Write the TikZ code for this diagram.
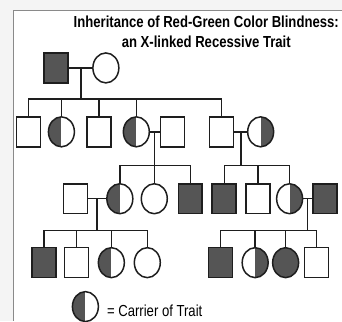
\documentclass[tikz,border=0pt]{standalone}
\usepackage{fontspec}
\newfontfamily\narrowsf[FakeStretch=0.82]{Liberation Sans}
\usetikzlibrary{shapes.geometric}
\definecolor{affgray}{HTML}{555555}
\definecolor{inkc}{HTML}{1E1E1E}
\definecolor{bggray}{HTML}{F4F4F4}
\definecolor{framec}{HTML}{8A8A8A}
\begin{document}
\begin{tikzpicture}[x=1pt,y=-1pt,
  conn/.style={draw=inkc, line width=1.4pt},
  male/.style={rectangle, draw=inkc, line width=1.5pt, minimum width=24pt, minimum height=30pt, inner sep=0pt, fill=white},
  female/.style={ellipse, draw=inkc, line width=1.5pt, minimum width=26pt, minimum height=30pt, inner sep=0pt, fill=white},
  aff/.style={fill=affgray},
  carL/.style={female, path picture={\fill[affgray] (path picture bounding box.south west) rectangle (path picture bounding box.north);}},
  carR/.style={female, path picture={\fill[affgray] (path picture bounding box.south east) rectangle (path picture bounding box.north);}},
  titletext/.style={font=\narrowsf\bfseries\fontsize{16}{19}\selectfont, inner sep=0pt, anchor=base},
  legtext/.style={font=\narrowsf\fontsize{16}{19}\selectfont, inner sep=0pt, anchor=base west}
]
% background and frame
\fill[bggray] (0,0) rectangle (342,321);
\fill[white] (13.5,10) rectangle (342,321);
\draw[framec, line width=0.9pt] (13.5,321) -- (13.5,10) -- (342,10);
\useasboundingbox (0,0) rectangle (342,321);

% title
\node[titletext] (t1) at (206.5,28) {Inheritance of Red-Green Color Blindness:};
\node[titletext] (t2) at (206.5,48) {an X-linked Recessive Trait};

% generation I
\node[male,aff] (I1) at (56,68) {};
\node[female] (I2) at (106,68) {};
% generation II
\node[male] (a1) at (28.5,132) {};
\node[carL] (a2) at (61.5,132) {};
\node[male] (a3) at (99,132) {};
\node[carL] (a4) at (136.5,132) {};
\node[male] (a5) at (172.5,132) {};
\node[male] (a6) at (222,132) {};
\node[carR] (a7) at (261,132) {};
% generation III
\node[male] (b1) at (75.5,199) {};
\node[carL] (b2) at (120,199) {};
\node[female] (b3) at (154.5,199) {};
\node[male,aff] (b4) at (190.5,199) {};
\node[male,aff] (b5) at (224.5,199) {};
\node[male] (b6) at (258.5,199) {};
\node[carR] (b7) at (290,199) {};
\node[male,aff] (b8) at (325.5,199) {};
% generation IV
\node[male,aff] (c1) at (44,263) {};
\node[male] (c2) at (76.5,263) {};
\node[carL] (c3) at (111.5,263) {};
\node[female] (c4) at (147.5,263) {};
\node[male,aff] (d1) at (221,263) {};
\node[carR] (d2) at (255.5,263) {};
\node[female,aff] (d3) at (286,263) {};
\node[male] (d4) at (317,263) {};

% junctions
\coordinate (j1) at (81,68);   \coordinate (k1) at (81,99);
\coordinate (j2) at (155,132); \coordinate (k2) at (155,166);
\coordinate (j3) at (241.5,132); \coordinate (k3) at (241.5,166);
\coordinate (j4) at (97,199);  \coordinate (k4) at (97,231);
\coordinate (j5) at (308,199); \coordinate (k5) at (308,231);

% couples
\draw[conn] (I1.east) -- (I2.west);
\draw[conn] (a4.east) -- (a5.west);
\draw[conn] (a6.east) -- (a7.west);
\draw[conn] (b1.east) -- (b2.west);
\draw[conn] (b7.east) -- (b8.west);
% descent lines
\draw[conn] (j1) -- (k1);
\draw[conn] (j2) -- (k2);
\draw[conn] (j3) -- (k3);
\draw[conn] (j4) -- (k4);
\draw[conn] (j5) -- (k5);
% sibships
\foreach \c in {a1,a2,a3,a4,a6} \draw[conn] (\c.north) |- (k1);
\foreach \c in {b2,b3,b4} \draw[conn] (\c.north) |- (k2);
\foreach \c in {b5,b6,b7} \draw[conn] (\c.north) |- (k3);
\foreach \c in {c1,c2,c3,c4} \draw[conn] (\c.north) |- (k4);
\foreach \c in {d1,d2,d3,d4} \draw[conn] (\c.north) |- (k5);

% legend
\node[carL] (leg) at (85.5,307) {};
\node[legtext] (legt) at (107,316.5) {= Carrier of Trait};
\end{tikzpicture}
\end{document}
